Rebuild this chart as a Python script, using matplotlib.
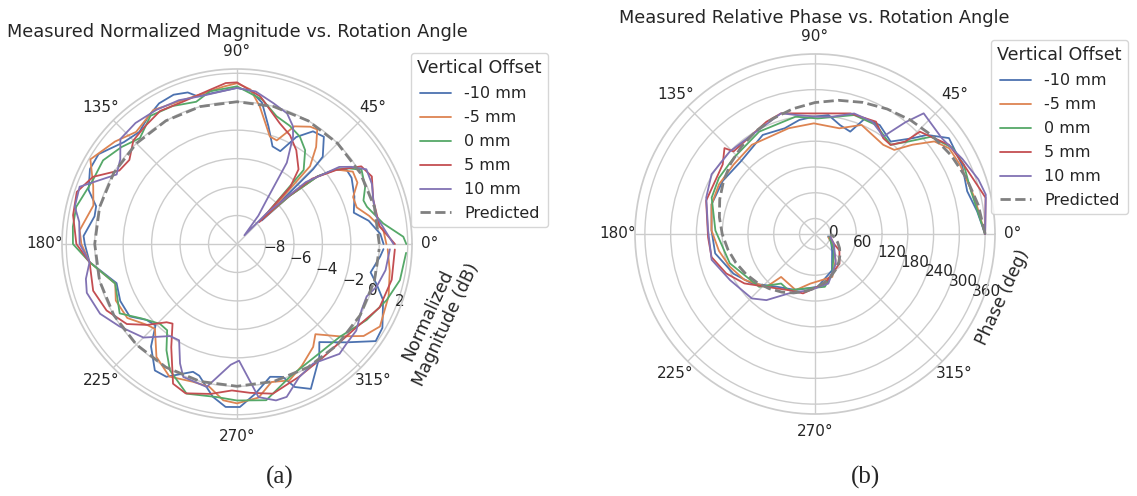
import numpy as np
import matplotlib
matplotlib.use("Agg")
import matplotlib.pyplot as plt
import seaborn as sns

sns.set_theme(style="whitegrid")
plt.rcParams['font.family'] = ['DejaVu Sans']

offsets = ["-10 mm", "-5 mm", "0 mm", "5 mm", "10 mm"]
colors = sns.color_palette("deep")[:5]

# ---- (a) normalized magnitude (dB) vs rotation angle (deg) ----
mag_m10_ang = [0, 4, 10, 15, 22, 30, 34, 37, 40, 42.5, 43.5, 44.5, 45.5, 51, 56, 61, 65, 70, 75, 80, 85, 90, 99, 105, 108, 113, 119, 125, 131, 138, 147, 153, 160, 165, 169, 177, 180, 187, 198, 206, 214, 220, 225, 230, 237, 242, 251, 254, 261, 266, 271, 277, 284, 289, 292, 297, 306, 310, 318, 325, 330, 339, 344, 348, 355, 358]
mag_m10_db = [0.3, 0.1, -0.6, -1.5, -1.1, -0.7, -0.7, -1.3, -2.6, -5.0, -7.6, -2.5, -1.4, -0.3, -0.45, -1.4, -2.8, -2.7, -1.45, 0.1, 0.8, 0.97, 0.75, 0.75, 1.2, 1.4, 1.3, 0.9, 0.45, 0.7, 1.6, 1.6, 1.1, 0.25, 0.2, 0.8, 0.7, 0.44, -1.1, -0.87, -0.9, -1.7, -1.9, -0.6, 0.6, 0.57, -0.5, -0.37, 0.87, 1.48, 1.46, 0.6, -0.38, -0.12, 0.84, 1.43, -0.16, -1.0, 0.33, 1.9, 1.8, 1.0, 0.2, -0.4, 0.1, 0.3]

mag_m5_ang = [0, 5.5, 12, 17, 22, 27, 32, 37, 40, 42.5, 44, 46.8, 50.8, 55, 58, 64, 69, 73, 80.6, 85, 90, 95, 100, 110, 122, 132, 140, 150, 158, 165, 175, 180, 187, 198, 205, 214, 222, 226, 234.5, 243, 252, 259, 265, 270, 278, 284, 291, 298, 306.5, 311, 318, 324, 330, 341, 350, 358]
mag_m5_db = [0.5, 0.33, -0.5, -1.2, -1.2, -0.5, -0.4, -1.3, -2.6, -5.0, -7.3, -2.5, -1.2, -0.17, -0.28, -0.8, -2.2, -2.1, -0.2, 0.9, 1.3, 1.1, 0.9, 0.8, 1.1, 0.6, 1.2, 1.9, 0.9, 0.45, 1.1, 0.94, 0.44, -1.0, -0.6, -0.7, -1.5, -1.7, -0.25, 0.46, 0.17, 0.22, 1.03, 1.2, 0.9, 0.0, 0.27, -0.3, -1.0, -1.6, -0.3, 1.0, 1.6, 1.27, 0.9, 0.6]

mag_0_ang = [0, 2.5, 8, 16, 19, 24, 30.8, 34, 37, 40, 42.5, 45, 48, 54, 59.7, 66, 72.8, 80, 90, 100, 106, 115, 124, 132.5, 140, 148, 156, 167, 174, 180, 187, 198, 210.6, 218, 226, 231, 236.4, 242, 251.4, 262.4, 270, 280.6, 291.7, 300, 309, 318, 329.6, 339.4, 347.5, 357]
mag_0_db = [1.9, 1.7, 0.38, -0.5, -0.6, -0.14, 0.19, -0.5, -1.3, -2.6, -5.0, -7.4, -3.0, -1.85, -1.25, -0.9, -0.6, 0.3, 1.08, 0.9, 0.4, 0.7, 0.87, 0.1, 0.6, 1.1, 1.08, 1.6, 1.6, 1.53, 0.44, -1.0, -0.42, -1.5, -2.2, -2.2, -1.04, 0.05, 1.1, 0.85, 1.0, 1.17, 0.05, -0.28, -0.39, -0.26, 0.56, 1.23, 1.73, 1.9]

mag_p5_ang = [0, 7, 18, 26.6, 32, 36.7, 41, 43.5, 44.6, 47, 50.5, 57.7, 64, 70.5, 81, 90, 94, 100, 110.6, 120, 128, 135, 142, 148, 155, 162, 170, 180, 187, 198, 207, 216, 222, 228, 231, 237.5, 245.4, 251, 260, 268, 275, 283.5, 295, 307, 323.5, 336, 347, 358]
mag_p5_db = [1.1, 0.1, 0.07, 0.6, 0.3, -1.3, -3.0, -5.5, -7.8, -4.5, -3.2, -2.2, -1.5, -1.0, 0.5, 1.36, 1.34, 1.0, 0.7, 0.8, 0.5, 0.3, -0.4, -0.25, 1.17, 1.84, 1.7, 1.29, 0.44, 0.63, 0.29, -0.43, -1.5, -2.6, -2.8, -1.4, 0.8, 1.1, 0.7, 0.3, 0.5, 0.82, 0.3, 0.0, 0.17, 0.97, 1.16, 1.1]

mag_p10_ang = [0, 11, 18, 24, 30, 34, 37, 42, 46, 49.6, 53, 56, 58.5, 62.4, 64.5, 69, 75.6, 83, 90, 104, 112, 121, 130, 138, 144, 150, 160, 167, 172, 180, 187, 193, 198, 207, 215, 225, 234, 239, 244.5, 248, 258, 267, 271, 278, 284, 288, 295, 302.5, 313, 318, 324, 332, 338, 343, 350, 358]
mag_p10_db = [1.0, 0.0, 0.07, 0.38, 0.5, -0.3, -1.0, -3.5, -7.0, -9.2, -7.5, -6.3, -3.3, -1.5, -0.85, -0.17, 0.23, 0.8, 0.97, 0.7, 0.9, 1.0, 1.1, 1.03, 0.14, -0.23, 1.77, 1.7, 1.2, 1.06, 0.44, 0.9, 1.1, 0.8, 0.09, -0.7, -2.0, -2.1, -0.7, 0.08, 0.27, -1.5, -1.8, 0.87, 1.33, 1.3, 0.33, -0.04, 0.56, 0.4, 0.36, -0.09, -0.17, 0.26, 0.6, 0.75]

pred_mag_ang = [0, 15, 30, 45, 60, 75, 90, 105, 120, 135, 150, 165, 180, 195, 210, 225, 240, 255, 270, 285, 300, 315, 330, 345, 358]
pred_mag_db = [0, 0, 0, 0, 0, 0, 0, 0, 0, 0, 0, 0, 0, 0, 0, 0, 0, 0, 0, 0, 0, 0, 0, 0, 0]

# ---- (b) relative phase (deg) vs rotation angle (deg) ----
ph_m10_ang = [0, 8, 15.7, 25, 35.6, 41.5, 44.5, 50.7, 59.3, 66.6, 71, 77, 83.5, 90.5, 97.8, 106, 117.8, 135.6, 150, 164, 178, 191, 206, 218, 234.5, 251, 273, 295, 316, 335, 350]
ph_m10 = [360, 345, 332, 342, 347.5, 312, 282, 242, 259, 257, 216, 224, 242.6, 237, 232, 220, 224.7, 205.6, 211.7, 214.5, 205, 200.7, 175, 150.8, 115, 102, 87, 57.5, 19.4, 5, -5]

ph_m5_ang = [0, 12.8, 25.6, 32.6, 37.8, 42.5, 46.7, 52.6, 66.9, 77, 90.6, 104, 125.3, 139.6, 152.7, 164, 178, 190, 201, 213, 227.4, 231.7, 251, 264.6, 292, 308, 330, 346]
ph_m5 = [360, 345, 338, 334.5, 315.6, 271.6, 233, 225.4, 240, 216.5, 221.6, 217.7, 218.4, 213, 215.6, 214.4, 205, 191, 176.4, 160, 131, 91.4, 102, 80, 71.6, 42, 12, -4]

ph_0_ang = [0, 15.4, 25, 32, 40, 44.6, 49.7, 60.7, 71.8, 88.7, 99.4, 118.6, 137, 149.7, 160.6, 178, 199, 223.4, 235.6, 244.6, 280.6, 293.5, 319, 339, 350]
ph_0 = [360, 340.6, 346, 342, 316, 271, 236, 255, 255.5, 233, 240.8, 235.4, 223.3, 223, 219, 196, 173.7, 143, 103.7, 108.5, 89, 64.5, 22.5, 2, -2]

ph_p5_ang = [0, 12, 25, 33.6, 44.3, 45.7, 49.7, 54.5, 61.5, 73.6, 90.5, 105.7, 113.4, 134.6, 136.5, 143, 163, 181.8, 192.6, 204, 215, 227.4, 244.6, 258.6, 281, 309.5, 326, 332.5, 350]
ph_p5 = [360, 370, 346, 338.8, 305, 264.6, 236, 237.8, 261.5, 256.6, 244.7, 255.7, 248.7, 234, 254.5, 233, 229, 213, 210.7, 190, 164.6, 131, 108.6, 105, 81.6, 53.6, 32.6, 13.8, 0]

ph_p10_ang = [0, 13, 18.5, 27, 37, 48, 51, 55, 57.7, 63, 72, 81.7, 88.7, 99, 105.7, 122.5, 136, 150, 161.5, 178, 194, 208.5, 225.6, 233.7, 246, 265, 285, 305, 332, 350]
ph_p10 = [360, 372, 365, 349, 334, 342, 299, 241, 246, 257.6, 259, 240, 237, 244.5, 255.7, 237.5, 240, 242, 231, 213, 212, 189, 174, 155, 115.6, 95, 83.5, 48.5, 13.8, 0]

pred_ph_ang = [0, 10, 20, 30, 40, 50, 60, 70, 80, 90, 100, 110, 120, 130, 140, 150, 160, 170, 180, 190, 200, 210, 220, 230, 240, 250, 260, 270, 280, 290, 300, 310, 320, 330, 340, 350, 360]
pred_ph = [360, 350, 340, 330, 320, 310, 300, 290, 280, 270, 260, 250, 240, 230, 220, 210, 200, 190, 180, 170, 160, 150, 140, 130, 120, 110, 100, 90, 80, 70, 60, 50, 40, 30, 20, 10, 0]

W, H = 1137, 496
fig = plt.figure(figsize=(W / 100, H / 100), dpi=100)


def polar_ax(cx, cy, r):
    return fig.add_axes([(cx - r) / W, 1 - (cy + r) / H, 2 * r / W, 2 * r / H],
                        projection='polar')


def draw(ax, series, pred_ang, pred_val):
    for (a, v), c, lab in zip(series, colors, offsets):
        ax.plot(np.radians(a), v, color=c, lw=1.3, label=lab)
    ax.plot(np.radians(pred_ang), pred_val, '--', color='gray', lw=2.0,
            label='Predicted')
    ax.set_rlabel_position(-22.5)
    ax.tick_params(labelsize=11)
    ax.tick_params(axis='x', pad=-0.5)


ax1 = polar_ax(237, 244, 175)
draw(ax1, [(mag_m10_ang, mag_m10_db), (mag_m5_ang, mag_m5_db), (mag_0_ang, mag_0_db),
           (mag_p5_ang, mag_p5_db), (mag_p10_ang, mag_p10_db)], pred_mag_ang, pred_mag_db)
ax1.set_ylim(-10, 2.3)
ax1.set_yticks([-8, -6, -4, -2, 0, 2])

ax2 = polar_ax(815, 234, 180)
draw(ax2, [(ph_m10_ang, ph_m10), (ph_m5_ang, ph_m5), (ph_0_ang, ph_0),
           (ph_p5_ang, ph_p5), (ph_p10_ang, ph_p10)], pred_ph_ang, pred_ph)
ax2.set_ylim(-36, 383)
ax2.set_yticks([0, 60, 120, 180, 240, 300, 360])

for ax, (lx, ly) in [(ax1, (411, 53)), (ax2, (991, 40))]:
    ax.legend(title="Vertical Offset", loc='upper left', fontsize=11.5, title_fontsize=12.6,
              bbox_to_anchor=(lx / W, 1 - ly / H), bbox_transform=fig.transFigure,
              borderaxespad=0, labelspacing=0.56, handlelength=2.0)

fig.text(237 / W, 1 - 32 / H, "Measured Normalized Magnitude vs. Rotation Angle",
         ha='center', va='center', fontsize=12.8)
fig.text(814 / W, 1 - 18 / H, "Measured Relative Phase vs. Rotation Angle",
         ha='center', va='center', fontsize=12.8)
fig.text(437 / W, 1 - 320 / H, "Normalized\nMagnitude (dB)", ha='center', va='center',
         rotation=65, rotation_mode='anchor', fontsize=12.4)
fig.text(1003 / W, 1 - 297 / H, "Phase (deg)", ha='center', va='center',
         rotation=65, rotation_mode='anchor', fontsize=12.4)

fig.text(280 / W, 1 - 477 / H, "(a)", ha='center', va='center', fontsize=18,
         family='Liberation Serif')
fig.text(865 / W, 1 - 477 / H, "(b)", ha='center', va='center', fontsize=18,
         family='Liberation Serif')

fig.savefig("out.png", dpi=100)
